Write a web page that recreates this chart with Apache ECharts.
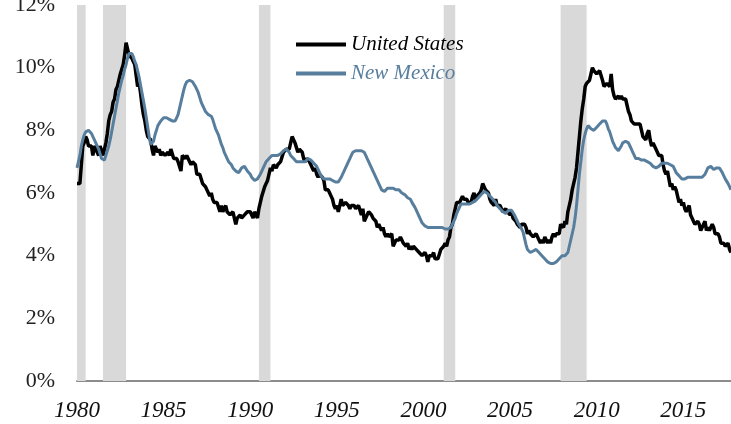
<!DOCTYPE html>
<html>
<head>
<meta charset="utf-8">
<title>Unemployment rate: United States vs New Mexico</title>
<script src="https://cdn.jsdelivr.net/npm/echarts@6/dist/echarts.min.js"></script>
<style>
  html, body { margin: 0; padding: 0; background: #fff; }
  #main { width: 731px; height: 424px; }
</style>
</head>
<body>
<div id="main"></div>
<script>
// monthly unemployment rate (%), Jan 1980 - Oct 2017
const startYear = 1980;

const usRate = [
  6.3, 6.3, 6.3, 6.9, 7.5, 7.6, 7.8, 7.7, 7.5, 7.5, 7.5, 7.2,
  7.5, 7.4, 7.4, 7.2, 7.5, 7.5, 7.2, 7.4, 7.6, 7.9, 8.3, 8.5,
  8.6, 8.9, 9.0, 9.3, 9.4, 9.6, 9.8, 9.8, 10.1, 10.4, 10.8, 10.8,
  10.4, 10.4, 10.3, 10.2, 10.1, 10.1, 9.4, 9.5, 9.2, 8.8, 8.5, 8.3,
  8.0, 7.8, 7.8, 7.7, 7.4, 7.2, 7.5, 7.5, 7.3, 7.4, 7.2, 7.3,
  7.3, 7.2, 7.2, 7.3, 7.2, 7.4, 7.4, 7.1, 7.1, 7.1, 7.0, 7.0,
  6.7, 7.2, 7.2, 7.1, 7.2, 7.2, 7.0, 6.9, 7.0, 7.0, 6.9, 6.6,
  6.6, 6.6, 6.6, 6.3, 6.3, 6.2, 6.1, 6.0, 5.9, 6.0, 5.8, 5.7,
  5.7, 5.7, 5.7, 5.4, 5.6, 5.4, 5.4, 5.6, 5.4, 5.4, 5.3, 5.3,
  5.4, 5.2, 5.0, 5.2, 5.2, 5.3, 5.2, 5.2, 5.3, 5.3, 5.4, 5.4,
  5.4, 5.3, 5.2, 5.4, 5.4, 5.2, 5.5, 5.7, 5.9, 5.9, 6.2, 6.3,
  6.4, 6.6, 6.8, 6.7, 6.9, 6.9, 6.8, 6.9, 6.9, 7.0, 7.0, 7.3,
  7.3, 7.4, 7.4, 7.4, 7.6, 7.8, 7.7, 7.6, 7.6, 7.3, 7.4, 7.4,
  7.3, 7.1, 7.0, 7.1, 7.1, 7.0, 6.9, 6.8, 6.7, 6.8, 6.6, 6.5,
  6.6, 6.6, 6.5, 6.4, 6.1, 6.1, 6.1, 6.0, 5.9, 5.8, 5.6, 5.5,
  5.6, 5.4, 5.4, 5.8, 5.6, 5.6, 5.7, 5.7, 5.6, 5.5, 5.6, 5.6,
  5.6, 5.5, 5.5, 5.6, 5.6, 5.3, 5.5, 5.1, 5.2, 5.2, 5.4, 5.4,
  5.3, 5.2, 5.2, 5.1, 4.9, 5.0, 4.9, 4.8, 4.9, 4.7, 4.6, 4.7,
  4.6, 4.6, 4.7, 4.3, 4.4, 4.5, 4.5, 4.5, 4.6, 4.5, 4.4, 4.4,
  4.3, 4.4, 4.2, 4.3, 4.2, 4.3, 4.3, 4.2, 4.2, 4.1, 4.1, 4.0,
  4.0, 4.1, 4.0, 3.8, 4.0, 4.0, 4.0, 4.1, 3.9, 3.9, 3.9, 3.9,
  4.2, 4.2, 4.3, 4.4, 4.3, 4.5, 4.6, 4.9, 5.0, 5.3, 5.5, 5.7,
  5.7, 5.7, 5.7, 5.9, 5.8, 5.8, 5.8, 5.7, 5.7, 5.7, 5.9, 6.0,
  5.8, 5.9, 5.9, 6.0, 6.1, 6.3, 6.2, 6.1, 6.1, 6.0, 5.8, 5.7,
  5.7, 5.6, 5.8, 5.6, 5.6, 5.6, 5.5, 5.4, 5.4, 5.5, 5.4, 5.4,
  5.3, 5.4, 5.2, 5.2, 5.1, 5.0, 5.0, 4.9, 5.0, 5.0, 5.0, 4.9,
  4.7, 4.8, 4.7, 4.7, 4.6, 4.6, 4.7, 4.7, 4.5, 4.4, 4.5, 4.4,
  4.6, 4.5, 4.4, 4.5, 4.4, 4.6, 4.7, 4.6, 4.7, 4.7, 4.7, 5.0,
  5.0, 4.9, 5.1, 5.0, 5.4, 5.6, 5.8, 6.1, 6.1, 6.5, 6.8, 7.3,
  7.8, 8.3, 8.7, 9.0, 9.4, 9.5, 9.5, 9.6, 9.8, 10.0, 9.9, 9.9,
  9.8, 9.8, 9.9, 9.9, 9.6, 9.4, 9.4, 9.5, 9.5, 9.4, 9.8, 9.3,
  9.1, 9.0, 9.0, 9.1, 9.0, 9.1, 9.0, 9.0, 9.0, 8.8, 8.6, 8.5,
  8.3, 8.3, 8.2, 8.2, 8.2, 8.2, 8.2, 8.0, 7.8, 7.8, 7.7, 7.9,
  8.0, 7.7, 7.5, 7.6, 7.5, 7.5, 7.3, 7.2, 7.2, 7.2, 6.9, 6.7,
  6.6, 6.7, 6.7, 6.2, 6.3, 6.1, 6.2, 6.1, 5.9, 5.7, 5.8, 5.6,
  5.7, 5.5, 5.4, 5.4, 5.6, 5.3, 5.2, 5.1, 5.0, 5.0, 5.1, 5.0,
  4.8, 4.9, 5.0, 5.1, 4.8, 4.9, 4.8, 4.9, 5.0, 4.9, 4.7, 4.7,
  4.7, 4.6, 4.4, 4.4, 4.4, 4.3, 4.3, 4.4, 4.2, 4.1
];

const nmRate = [
  6.8, 7.0, 7.2, 7.5, 7.7, 7.85, 7.95, 8.0, 8.0, 7.95, 7.9, 7.8,
  7.7, 7.6, 7.5, 7.4, 7.25, 7.1, 7.05, 7.05, 7.2, 7.35, 7.5, 7.7,
  7.95, 8.2, 8.45, 8.7, 8.95, 9.2, 9.4, 9.6, 9.75, 9.95, 10.1, 10.3,
  10.45, 10.5, 10.45, 10.35, 10.2, 10.1, 9.9, 9.7, 9.45, 9.2, 8.95, 8.7,
  8.4, 8.1, 7.8, 7.55, 7.5, 7.65, 7.85, 8.0, 8.15, 8.2, 8.3, 8.35,
  8.4, 8.4, 8.4, 8.4, 8.35, 8.3, 8.3, 8.3, 8.3, 8.4, 8.5, 8.7,
  8.9, 9.1, 9.3, 9.45, 9.55, 9.6, 9.6, 9.6, 9.55, 9.5, 9.4, 9.35,
  9.2, 9.05, 8.9, 8.8, 8.7, 8.6, 8.55, 8.5, 8.45, 8.45, 8.35, 8.2,
  8.05, 7.95, 7.85, 7.7, 7.55, 7.45, 7.3, 7.2, 7.1, 7.0, 6.95, 6.9,
  6.8, 6.75, 6.7, 6.65, 6.65, 6.7, 6.8, 6.85, 6.85, 6.8, 6.7, 6.65,
  6.6, 6.5, 6.45, 6.4, 6.4, 6.45, 6.5, 6.6, 6.7, 6.8, 6.9, 7.0,
  7.05, 7.1, 7.15, 7.2, 7.2, 7.2, 7.2, 7.2, 7.2, 7.25, 7.3, 7.35,
  7.4, 7.4, 7.35, 7.3, 7.2, 7.15, 7.1, 7.05, 7.0, 7.0, 7.0, 7.0,
  7.0, 7.0, 7.0, 7.05, 7.1, 7.1, 7.05, 7.0, 6.95, 6.9, 6.85, 6.75,
  6.65, 6.55, 6.5, 6.45, 6.45, 6.45, 6.45, 6.45, 6.4, 6.4, 6.4, 6.35,
  6.35, 6.35, 6.4, 6.5, 6.6, 6.7, 6.8, 6.9, 7.0, 7.1, 7.2, 7.3,
  7.35, 7.35, 7.35, 7.35, 7.35, 7.35, 7.35, 7.3, 7.2, 7.1, 7.0, 6.9,
  6.8, 6.7, 6.6, 6.5, 6.4, 6.3, 6.2, 6.1, 6.05, 6.05, 6.1, 6.15,
  6.15, 6.15, 6.15, 6.15, 6.1, 6.1, 6.1, 6.1, 6.05, 6.0, 6.0, 5.95,
  5.9, 5.85, 5.85, 5.8, 5.7, 5.65, 5.55, 5.45, 5.35, 5.25, 5.15, 5.05,
  5.0, 4.95, 4.95, 4.9, 4.9, 4.9, 4.9, 4.9, 4.9, 4.9, 4.9, 4.9,
  4.9, 4.9, 4.9, 4.85, 4.85, 4.85, 4.85, 4.9, 5.0, 5.1, 5.2, 5.35,
  5.45, 5.55, 5.65, 5.65, 5.65, 5.65, 5.65, 5.65, 5.65, 5.65, 5.7, 5.7,
  5.75, 5.8, 5.85, 5.9, 5.95, 6.0, 6.05, 6.05, 6.0, 5.95, 5.9, 5.85,
  5.8, 5.75, 5.7, 5.6, 5.55, 5.5, 5.45, 5.4, 5.35, 5.35, 5.4, 5.45,
  5.45, 5.45, 5.4, 5.3, 5.2, 5.1, 5.0, 4.95, 4.85, 4.75, 4.55, 4.35,
  4.2, 4.15, 4.1, 4.1, 4.15, 4.2, 4.2, 4.15, 4.1, 4.05, 4.0, 3.95,
  3.9, 3.85, 3.8, 3.75, 3.75, 3.75, 3.75, 3.75, 3.8, 3.85, 3.9, 3.95,
  4.0, 4.0, 4.0, 4.05, 4.1, 4.3, 4.5, 4.7, 4.9, 5.2, 5.6, 6.1,
  6.6, 7.0, 7.4, 7.7, 7.9, 8.05, 8.15, 8.1, 8.05, 8.0, 8.0, 8.05,
  8.1, 8.15, 8.2, 8.25, 8.3, 8.35, 8.3, 8.2, 8.05, 7.95, 7.8, 7.65,
  7.55, 7.45, 7.4, 7.35, 7.4, 7.5, 7.6, 7.65, 7.65, 7.65, 7.6, 7.5,
  7.4, 7.3, 7.2, 7.1, 7.1, 7.1, 7.1, 7.05, 7.05, 7.05, 7.0, 7.0,
  6.95, 6.95, 6.9, 6.85, 6.8, 6.8, 6.8, 6.85, 6.9, 6.95, 6.95, 6.95,
  6.95, 6.95, 6.9, 6.9, 6.9, 6.85, 6.75, 6.65, 6.6, 6.55, 6.5, 6.45,
  6.45, 6.45, 6.45, 6.5, 6.5, 6.5, 6.5, 6.5, 6.5, 6.5, 6.5, 6.5,
  6.5, 6.5, 6.55, 6.6, 6.7, 6.8, 6.85, 6.85, 6.8, 6.75, 6.75, 6.8,
  6.8, 6.8, 6.75, 6.65, 6.55, 6.45, 6.4, 6.3, 6.2, 6.1
];

// NBER recessions, first and last month
const recessions = [
  ['1980-01', '1980-07'],
  ['1981-07', '1982-11'],
  ['1990-07', '1991-03'],
  ['2001-03', '2001-11'],
  ['2007-12', '2009-06']
];

const seriesNames = ['United States', 'New Mexico'];
const usColor = '#000000';
const nmColor = '#587e9e';
const serif = '"Liberation Serif", "DejaVu Serif", serif';

const months = [];
for (let i = 0; i < usRate.length; i++) {
  const y = startYear + Math.floor(i / 12);
  const m = (i % 12) + 1;
  months.push(y + '-' + (m < 10 ? '0' + m : m));
}

function isLabelMonth(index, value) {
  return value.slice(5) === '01' && Number(value.slice(0, 4)) % 5 === 0;
}

const chart = echarts.init(document.getElementById('main'), null, { renderer: 'canvas' });

chart.setOption({
  animation: false,
  backgroundColor: '#ffffff',
  grid: {
    left: 77,
    right: 0,
    top: 5,
    bottom: 43,
    outerBoundsMode: 'none'
  },
  legend: {
    orient: 'vertical',
    left: 291,
    top: 29,
    itemWidth: 50,
    itemHeight: 4,
    itemGap: 8,
    data: [
      { name: seriesNames[0], icon: 'rect', textStyle: { color: usColor } },
      { name: seriesNames[1], icon: 'rect', textStyle: { color: nmColor } }
    ],
    textStyle: {
      fontFamily: serif,
      fontStyle: 'italic',
      fontSize: 21
    }
  },
  xAxis: {
    type: 'category',
    boundaryGap: false,
    data: months,
    axisLine: { lineStyle: { color: '#8c8c8c', width: 2 } },
    axisTick: { show: false },
    axisLabel: {
      interval: isLabelMonth,
      formatter: (v) => v.slice(0, 4),
      fontFamily: serif,
      fontStyle: 'italic',
      fontSize: 23,
      color: '#111111',
      margin: 18
    },
    splitLine: { show: false }
  },
  yAxis: {
    type: 'value',
    min: 0,
    max: 12,
    interval: 2,
    axisLine: { show: false },
    axisTick: { show: false },
    splitLine: { show: false },
    axisLabel: {
      formatter: '{value}%',
      fontFamily: serif,
      fontSize: 22,
      color: '#222222',
      margin: 22
    }
  },
  series: [
    {
      name: 'recessions',
      type: 'line',
      data: [],
      z: 1,
      silent: true,
      markArea: {
        silent: true,
        itemStyle: { color: '#d9d9d9' },
        data: recessions.map((r) => [{ xAxis: r[0] }, { xAxis: r[1] }])
      }
    },
    {
      name: seriesNames[0],
      type: 'line',
      data: usRate,
      z: 3,
      symbol: 'none',
      showSymbol: false,
      lineStyle: { color: usColor, width: 3.5 },
      itemStyle: { color: usColor }
    },
    {
      name: seriesNames[1],
      type: 'line',
      data: nmRate,
      z: 4,
      symbol: 'none',
      showSymbol: false,
      lineStyle: { color: nmColor, width: 3 },
      itemStyle: { color: nmColor }
    }
  ]
});
</script>
</body>
</html>
